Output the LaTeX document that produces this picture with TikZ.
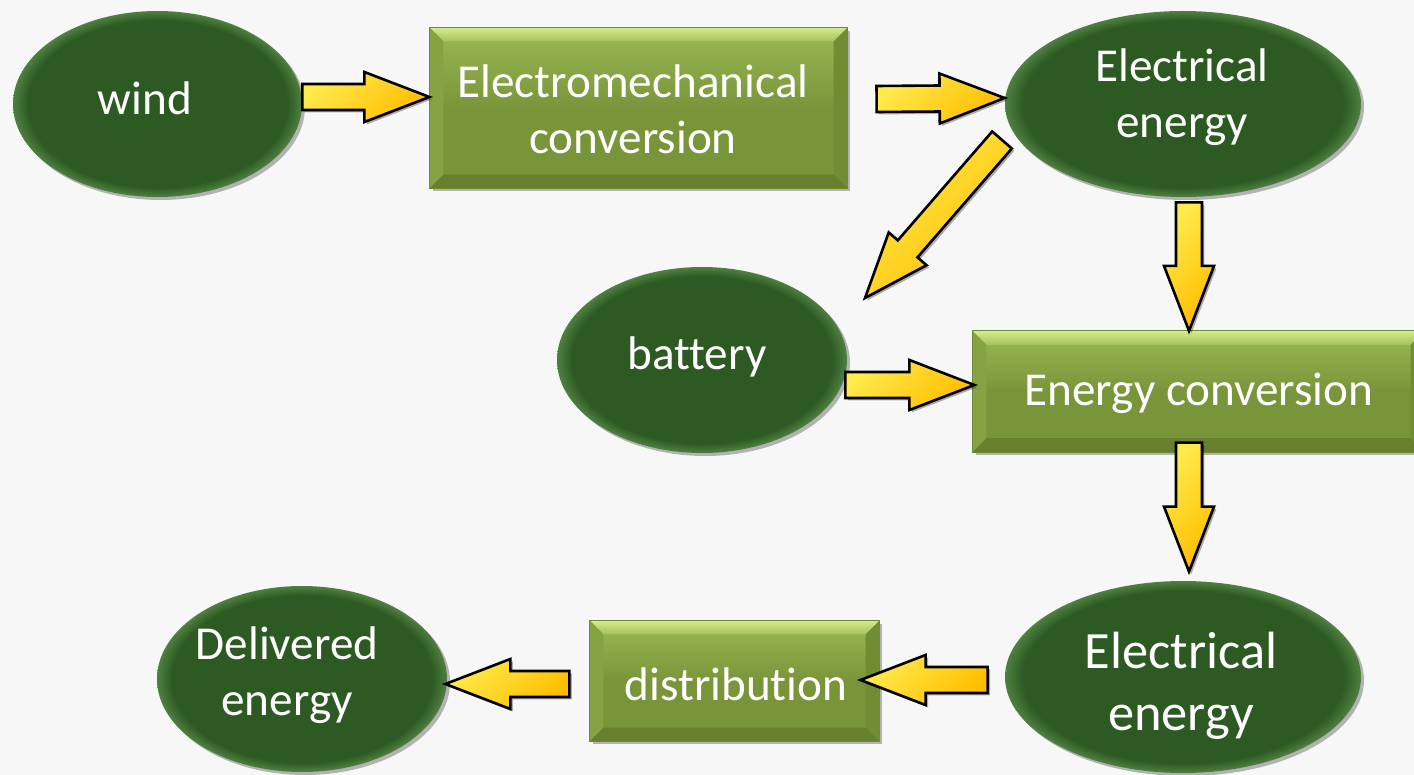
\documentclass[tikz,border=0pt]{standalone}
\usepackage{fontspec}
\setmainfont{Carlito}[Ligatures=NoCommon]
\usetikzlibrary{calc,shapes.geometric,shadows}

\definecolor{bgpaper}{HTML}{F7F7F7}
\definecolor{ovalgreen}{HTML}{2D5A23}
\definecolor{ovalrim}{HTML}{4F8040}
\definecolor{boxolive}{HTML}{78953A}
\definecolor{boxtopface}{HTML}{9CB955}
\definecolor{boxedge}{HTML}{6E8A32}
\definecolor{bevtop}{HTML}{D6EC8C}
\definecolor{bevtopin}{HTML}{A4C05C}
\definecolor{bevleft}{HTML}{86A343}
\definecolor{bevright}{HTML}{708C35}
\definecolor{bevbottom}{HTML}{687F2E}
\definecolor{arrowgold}{HTML}{FFBE00}
\definecolor{arrowlight}{HTML}{FFEA4C}

% dark green oval with a slightly lighter rim
\pgfdeclareradialshading{ovalshade}{\pgfpoint{0bp}{0bp}}{%
  color(0bp)=(ovalgreen); color(22.5bp)=(ovalgreen);
  color(25bp)=(ovalrim); color(50bp)=(ovalrim)}

\tikzset{
  softshadow/.style={drop shadow={shadow xshift=1.5pt, shadow yshift=-1.5pt,
      opacity=.28, fill=black}},
  oval/.style={ellipse, inner sep=0pt, shading=ovalshade, softshadow},
  stagebox/.style={rectangle, inner sep=0pt, top color=boxtopface,
      bottom color=boxolive, middle color=boxolive, draw=boxedge,
      line width=.6pt, softshadow},
  label/.style={text=white, inner sep=0pt, align=center, anchor=base,
      font=\fontsize{23.6}{28}\selectfont},
  biglabel/.style={label, font=\fontsize{26.2}{31}\selectfont},
  % yellow block arrow drawn between two points
  blockarrow/.style={draw=black, line width=1.3pt, line join=miter,
      top color=arrowlight, bottom color=arrowgold, shading angle=45,
      drop shadow={shadow xshift=1.2pt, shadow yshift=-1.2pt, opacity=.3, fill=black},
      to path={let \p1=(\tikztostart), \p2=(\tikztotarget),
        \n1={atan2(\y2-\y1,\x2-\x1)},
        \n2={veclen(\x2-\x1,\y2-\y1)-32.5pt} in
        ($(\p1)+(\n1+90:6.5pt)$)
        -- ($(\p1)+(\n1:\n2)+(\n1+90:6.5pt)$)
        -- ($(\p1)+(\n1:\n2)+(\n1+90:12.5pt)$)
        -- (\p2)
        -- ($(\p1)+(\n1:\n2)+(\n1-90:12.5pt)$)
        -- ($(\p1)+(\n1:\n2)+(\n1-90:6.5pt)$)
        -- ($(\p1)+(\n1-90:6.5pt)$)
        -- cycle}}
}

% bevelled frame on a stage box
\newcommand\bevelbox[1]{%
  \shade[top color=bevtop, bottom color=bevtopin]
    (#1.north west) -- (#1.north east) -- ($(#1.north east)+(-14,14)$)
    -- ($(#1.north west)+(14,14)$) -- cycle;
  \fill[bevleft]
    (#1.north west) -- ($(#1.north west)+(14,14)$)
    -- ($(#1.south west)+(14,-14)$) -- (#1.south west) -- cycle;
  \fill[bevright]
    (#1.north east) -- ($(#1.north east)+(-14,14)$)
    -- ($(#1.south east)+(-14,-14)$) -- (#1.south east) -- cycle;
  \fill[bevbottom]
    (#1.south west) -- ($(#1.south west)+(14,-14)$)
    -- ($(#1.south east)+(-14,-14)$) -- (#1.south east) -- cycle;
  \draw[boxedge, line width=.6pt] (#1.north west) rectangle (#1.south east);
}

\begin{document}
\begin{tikzpicture}[x=0.5pt, y=-0.5pt]
  \path[use as bounding box, fill=bgpaper] (0,0) rectangle (1414,775);

  % stages
  \node[oval, minimum width=144.5pt, minimum height=93pt] (wind) at (157.5,104) {};
  \node[stagebox, minimum width=208.5pt, minimum height=80pt] (emc) at (638.5,108) {};
  \node[oval, minimum width=178pt, minimum height=93pt] (elec1) at (1183,104) {};
  \node[oval, minimum width=145pt, minimum height=93pt] (batt) at (702,360) {};
  \node[stagebox, minimum width=225.5pt, minimum height=60pt] (econv) at (1198.5,391.5) {};
  \node[oval, minimum width=178pt, minimum height=96pt] (elec2) at (1183,677) {};
  \node[stagebox, minimum width=144.5pt, minimum height=60pt] (dist) at (734.5,681) {};
  \node[oval, minimum width=145pt, minimum height=93pt] (deliv) at (302,679) {};

  \bevelbox{emc}
  \bevelbox{econv}
  \bevelbox{dist}

  % texts (multi-line labels sit on the baseline of their last line)
  \node[label] (windtxt) at (145,115) {wind};
  \node[label] (emctxt) at (633,154) {Electromechanical\\conversion};
  \node[label] (elec1txt) at (1182,138) {Electrical\\energy};
  \node[label] (batttxt) at (697,370) {battery};
  \node[label] (econvtxt) at (1199,405) {Energy conversion};
  \node[biglabel] (elec2txt) at (1181,730) {Electrical\\energy};
  \node[label] (disttxt) at (736,700) {distribution};
  \node[label] (delivtxt) at (287,715) {Delivered\\energy};

  % flows
  \draw[blockarrow] ($(wind.east)+(0,-7)$) to ($(emc.west)+(0,-11)$);
  \draw[blockarrow] ($(emc.east)+(29,-9)$) to ($(elec1.west)+(0,-6)$);
  \draw[blockarrow] ($(elec1)+(-181,36)$) to ($(batt)+(163,-62)$);
  \draw[blockarrow] ($(elec1.south)+(6,5)$) to ($(econv.north)+(-9.5,0)$);
  \draw[blockarrow] ($(batt.east)+(-2,25)$) to ($(econv.west)+(2,-6.5)$);
  \draw[blockarrow] ($(econv.south)+(-9.5,-9.5)$) to ($(elec2.north)+(6,-9)$);
  \draw[blockarrow] ($(elec2.west)+(-17,3)$) to ($(dist.east)+(-19,-1)$);
  \draw[blockarrow] ($(dist.west)+(-20,3)$) to ($(deliv.east)+(-2,5)$);
\end{tikzpicture}
\end{document}
